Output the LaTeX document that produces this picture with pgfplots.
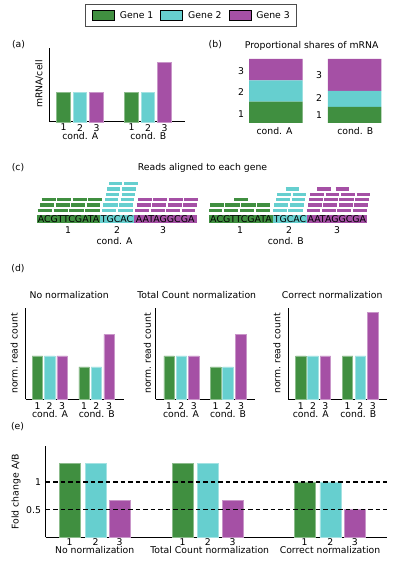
\documentclass[border=0pt]{standalone}
\usepackage{fontspec}
\setmainfont{DejaVu Sans}
\usepackage{pgfplots}
\pgfplotsset{compat=1.18}
\definecolor{gA}{RGB}{64,143,64}
\definecolor{gB}{RGB}{102,207,207}
\definecolor{gC}{RGB}{165,80,165}
\pgfplotsset{
  g1bar/.style={fill=gA, draw=gA!60!white, line width=0.6bp},
  g2bar/.style={fill=gB, draw=gB!60!white, line width=0.6bp},
  g3bar/.style={fill=gC, draw=gC!60!white, line width=0.6bp},
  bp/.style={scale only axis, anchor=south west, axis lines=left,
    axis line style={-, line width=1bp, black},
    ymin=0, ytick=\empty, xtick style={draw=none}, ytick style={draw=none},
    major tick length=0pt,
    ybar, bar shift=0pt, clip=false,
    xticklabel style={anchor=north, inner sep=0pt},
    /pgf/number format/assume math mode=true},
  reads/.style={line width=3.3bp, mark=none, forget plot},
}
\begin{document}
\fontsize{9.3bp}{11bp}\selectfont
\begin{tikzpicture}
\useasboundingbox (0,0) rectangle (397bp,562bp);

% ---------- overlay axis (pixel coordinates, y up) ----------
\begin{axis}[scale only axis, hide axis, at={(0bp,0bp)}, anchor=south west,
  width=397bp, height=562bp, xmin=0, xmax=397, ymin=0, ymax=562, clip=false,
  unbounded coords=jump,
  legend columns=3,
  legend image code/.code={\fill[#1] (0bp,-5bp) rectangle (22bp,5bp);},
  legend style={at={(0.4811,0.9724)}, anchor=center, draw=black!70, line width=0.8bp,
    inner xsep=7bp, inner ysep=5.5bp, nodes={inner sep=0pt},
    /tikz/every odd column/.append style={column sep=5bp},
    /tikz/every even column/.append style={column sep=7bp}}]
\addlegendimage{fill=gA}\addlegendentry{Gene 1}
\addlegendimage{fill=gB}\addlegendentry{Gene 2}
\addlegendimage{fill=gC}\addlegendentry{Gene 3}

% sequence backgrounds
\addplot[fill=gA, draw=none, forget plot] coordinates {(37.3,339)(100,339)(100,347.3)(37.3,347.3)};
\addplot[fill=gB, draw=none, forget plot] coordinates {(100,339)(134,339)(134,347.3)(100,347.3)};
\addplot[fill=gC, draw=none, forget plot] coordinates {(134,339)(196.5,339)(196.5,347.3)(134,347.3)};
\addplot[fill=gA, draw=none, forget plot] coordinates {(209,339)(273,339)(273,347.3)(209,347.3)};
\addplot[fill=gB, draw=none, forget plot] coordinates {(273,339)(307,339)(307,347.3)(273,347.3)};
\addplot[fill=gC, draw=none, forget plot] coordinates {(307,339)(366.7,339)(366.7,347.3)(307,347.3)};

% reads, gene 1
\addplot[reads, gA] coordinates {
(37.7,351.7)(52.3,351.7)(nan,nan)(53.7,351.7)(68,351.7)(nan,nan)(69.3,351.7)(84,351.7)(nan,nan)(85,351.7)(99.7,351.7)(nan,nan)
(40,357)(54,357)(nan,nan)(55.7,357)(69.7,357)(nan,nan)(71,357)(85,357)(nan,nan)(86.7,357)(100.3,357)(nan,nan)
(41.7,362.3)(55.7,362.3)(nan,nan)(57.3,362.3)(71.3,362.3)(nan,nan)(72.7,362.3)(86.7,362.3)(nan,nan)(88.3,362.3)(101.7,362.3)(nan,nan)
(209,351.7)(222.3,351.7)(nan,nan)(224.3,351.7)(238.3,351.7)(nan,nan)(240.3,351.7)(254.3,351.7)(nan,nan)(255.7,351.7)(269.7,351.7)(nan,nan)
(210,357)(224,357)(nan,nan)(225.3,357)(239.7,357)(nan,nan)(241.3,357)(255.7,357)(nan,nan)(257.3,357)(270.3,357)(nan,nan)
(234.3,362.3)(247.7,362.3)
};
% reads, gene 2
\addplot[reads, gB] coordinates {
(102,351.7)(116,351.7)(nan,nan)(118.3,351.7)(132.7,351.7)(nan,nan)
(103.3,357)(117.7,357)(nan,nan)(119.3,357)(133.3,357)(nan,nan)
(105,362.3)(118.3,362.3)(nan,nan)(120.7,362.3)(134.3,362.3)(nan,nan)
(106,367.6)(119.3,367.6)(nan,nan)(121.7,367.6)(135,367.6)(nan,nan)
(107,372.9)(120.3,372.9)(nan,nan)(122.3,372.9)(136,372.9)(nan,nan)
(109,378.2)(122.3,378.2)(nan,nan)(124.3,378.2)(138,378.2)(nan,nan)
(273.3,351.7)(286.7,351.7)(nan,nan)(288.3,351.7)(302.7,351.7)(nan,nan)
(274.3,357)(288.3,357)(nan,nan)(290,357)(304,357)(nan,nan)
(276,362.3)(290,362.3)(nan,nan)(291.7,362.3)(305,362.3)(nan,nan)
(277.3,367.6)(290.7,367.6)(nan,nan)(292.7,367.6)(306,367.6)(nan,nan)
(285.7,372.9)(299.3,372.9)
};
% reads, gene 3
\addplot[reads, gC] coordinates {
(135,351.7)(149,351.7)(nan,nan)(150.7,351.7)(164.7,351.7)(nan,nan)(166,351.7)(180,351.7)(nan,nan)(181.7,351.7)(195.3,351.7)(nan,nan)
(136.7,357)(150.7,357)(nan,nan)(152.3,357)(166.3,357)(nan,nan)(167.7,357)(181.7,357)(nan,nan)(183.3,357)(196.7,357)(nan,nan)
(138,362.3)(151.7,362.3)(nan,nan)(153.3,362.3)(167.3,362.3)(nan,nan)(168.7,362.3)(182.7,362.3)(nan,nan)(184,362.3)(197.7,362.3)(nan,nan)
(306.7,351.7)(320,351.7)(nan,nan)(322,351.7)(336,351.7)(nan,nan)(337.3,351.7)(351.3,351.7)(nan,nan)(353.3,351.7)(366.7,351.7)(nan,nan)
(308.3,357)(321.7,357)(nan,nan)(323.3,357)(337.3,357)(nan,nan)(339,357)(352.7,357)(nan,nan)(354.3,357)(368.3,357)(nan,nan)
(309,362.3)(322.7,362.3)(nan,nan)(324.3,362.3)(338.3,362.3)(nan,nan)(339.3,362.3)(354,362.3)(nan,nan)(355.3,362.3)(369.3,362.3)(nan,nan)
(310,367.6)(324,367.6)(nan,nan)(325.7,367.6)(339.3,367.6)(nan,nan)(341,367.6)(355,367.6)(nan,nan)(356.7,367.6)(370,367.6)(nan,nan)
(317.3,372.9)(330.7,372.9)(nan,nan)(335.7,372.9)(349,372.9)
};

% sequence letters
\begin{scope}[every node/.style={inner sep=0pt, font=\fontsize{9.4bp}{11bp}\selectfont}]
\node at (axis cs:68.65,343.2) {ACGTTCGATA};
\node at (axis cs:117,343.2) {TGCAC};
\node at (axis cs:165.25,343.2) {AATAGGCGA};
\node at (axis cs:241,343.2) {ACGTTCGATA};
\node at (axis cs:290,343.2) {TGCAC};
\node at (axis cs:336.85,343.2) {AATAGGCGA};
\end{scope}

\begin{scope}[every node/.style={inner sep=0pt}]
% panel labels
\node at (axis cs:18.5,517) {(a)};
\node at (axis cs:215.3,517) {(b)};
\node at (axis cs:18,394) {(c)};
\node at (axis cs:18,293) {(d)};
\node at (axis cs:17.5,135.5) {(e)};
% titles
\node[anchor=base] at (axis cs:311.7,513.5) {Proportional shares of mRNA};
\node[anchor=base] at (axis cs:202.5,391) {Reads aligned to each gene};
\node[anchor=base] at (axis cs:69.2,263) {No normalization};
\node[anchor=base] at (axis cs:196.7,263) {Total Count normalization};
\node[anchor=base] at (axis cs:332.2,263) {Correct normalization};
% y labels
\node[rotate=90] at (axis cs:39.2,478) {mRNA/cell};
\node[rotate=90] at (axis cs:14.2,208.5) {norm.\ read count};
\node[rotate=90] at (axis cs:147.5,208.5) {norm.\ read count};
\node[rotate=90] at (axis cs:277,208.5) {norm.\ read count};
\node[rotate=90] at (axis cs:16,70.3) {Fold change A/B};
% panel (a) groups
\node at (axis cs:80.2,426.1) {cond. A};
\node at (axis cs:148.3,426.1) {cond. B};
% panel (b) labels
\node at (axis cs:241,448) {1};
\node at (axis cs:241,470) {2};
\node at (axis cs:241,491) {3};
\node at (axis cs:319,447) {1};
\node at (axis cs:319,464) {2};
\node at (axis cs:319,487) {3};
\node at (axis cs:274.5,430.7) {cond. A};
\node at (axis cs:355.2,430.7) {cond. B};
% panel (c) labels
\node at (axis cs:68,331.7) {1};
\node at (axis cs:117,331.7) {2};
\node at (axis cs:163,331.7) {3};
\node at (axis cs:240,331.7) {1};
\node at (axis cs:289,331.7) {2};
\node at (axis cs:337,331.7) {3};
\node at (axis cs:114.5,320.8) {cond. A};
\node at (axis cs:285.8,320.8) {cond. B};
% panel (d) groups
\node at (axis cs:50,147.5) {cond. A};
\node at (axis cs:96.7,147.5) {cond. B};
\node at (axis cs:181,147.5) {cond. A};
\node at (axis cs:228,147.5) {cond. B};
\node at (axis cs:310.8,147.5) {cond. A};
\node at (axis cs:358.3,147.5) {cond. B};
% panel (e) groups
\node at (axis cs:94.7,11.5) {No normalization};
\node at (axis cs:209.7,11.5) {Total Count normalization};
\node at (axis cs:330,11.5) {Correct normalization};
\end{scope}
\end{axis}

% ---------- panel (a) ----------
\begin{axis}[bp, at={(49bp,440bp)}, width=136bp, height=74bp,
  xmin=0.12, xmax=8.36, ymax=2.5, bar width=0.82,
  xtick={1,2,3,5.12,6.12,7.12}, xticklabels={1,2,3,1,2,3},
  xticklabel style={yshift=-2bp}]
\addplot[g1bar] coordinates {(1,1) (5.12,1)};
\addplot[g2bar] coordinates {(2,1) (6.12,1)};
\addplot[g3bar] coordinates {(3,1) (7.12,2)};
\end{axis}

% ---------- panel (b) ----------
\begin{axis}[scale only axis, hide axis, at={(240bp,439bp)}, anchor=south west,
  width=150bp, height=64bp, xmin=240, xmax=390, ymin=0, ymax=1,
  ybar stacked, bar width=53.5, clip=false]
\addplot[fill=gA, draw=none] coordinates {(275.8,0.3333) (354.6,0.25)};
\addplot[fill=gB, draw=none] coordinates {(275.8,0.3333) (354.6,0.25)};
\addplot[fill=gC, draw=none] coordinates {(275.8,0.3334) (354.6,0.5)};
\end{axis}

% ---------- panel (d) ----------
\begin{axis}[bp, at={(25.7bp,162.7bp)}, width=98.3bp, height=91.3bp,
  xmin=25.7, xmax=124, ymax=25.3, bar width=10.5,
  xtick={37.5,49.7,62.2,84.2,96.3,109.2}, xticklabels={1,2,3,1,2,3},
  xticklabel style={yshift=-3.4bp}]
\addplot[g1bar] coordinates {(37.5,12) (84.2,9)};
\addplot[g2bar] coordinates {(49.7,12) (96.3,9)};
\addplot[g3bar] coordinates {(62.2,12) (109.2,18)};
\end{axis}
\begin{axis}[bp, at={(155.7bp,162.7bp)}, width=99.3bp, height=91.3bp,
  xmin=155.7, xmax=255, ymax=25.3, bar width=10.5,
  xtick={169.2,181.4,193.9,215.6,228,241}, xticklabels={1,2,3,1,2,3},
  xticklabel style={yshift=-3.4bp}]
\addplot[g1bar] coordinates {(169.2,12) (215.6,9)};
\addplot[g2bar] coordinates {(181.4,12) (228,9)};
\addplot[g3bar] coordinates {(193.9,12) (241,18)};
\end{axis}
\begin{axis}[bp, at={(288.3bp,162.7bp)}, width=98.4bp, height=91.3bp,
  xmin=288.3, xmax=386.7, ymax=25.3, bar width=10.5,
  xtick={300.8,313,325.3,347.5,360.3,372.8}, xticklabels={1,2,3,1,2,3},
  xticklabel style={yshift=-3.4bp}]
\addplot[g1bar] coordinates {(300.8,12) (347.5,12)};
\addplot[g2bar] coordinates {(313,12) (360.3,12)};
\addplot[g3bar] coordinates {(325.3,12) (372.8,24)};
\end{axis}

% ---------- panel (e) ----------
\begin{axis}[bp, at={(45.7bp,24.7bp)}, width=341bp, height=91.3bp,
  xmin=45.7, xmax=386.7, ymax=1.651, bar width=21,
  xtick={69.5,95.5,119.7,182.5,207.8,232.5,304.7,330.3,354.8},
  xticklabels={1,2,3,1,2,3,1,2,3},
  xticklabel style={yshift=-1bp},
  ytick={0.5,1}, yticklabels={0.5,1},
  yticklabel style={anchor=east, inner sep=0pt, xshift=-4.5bp}]
\addplot[g1bar] coordinates {(69.5,1.3333) (182.5,1.3333) (304.7,1)};
\addplot[g2bar] coordinates {(95.5,1.3333) (207.8,1.3333) (330.3,1)};
\addplot[g3bar] coordinates {(119.7,0.6667) (232.5,0.6667) (354.8,0.5)};
\addplot[sharp plot, black, line width=1.1bp, dash pattern=on 4.5bp off 3bp] coordinates {(45.7,1) (386.7,1)};
\addplot[sharp plot, black, line width=1.1bp, dash pattern=on 4.5bp off 3bp] coordinates {(45.7,0.5) (386.7,0.5)};
\end{axis}
\end{tikzpicture}
\end{document}
